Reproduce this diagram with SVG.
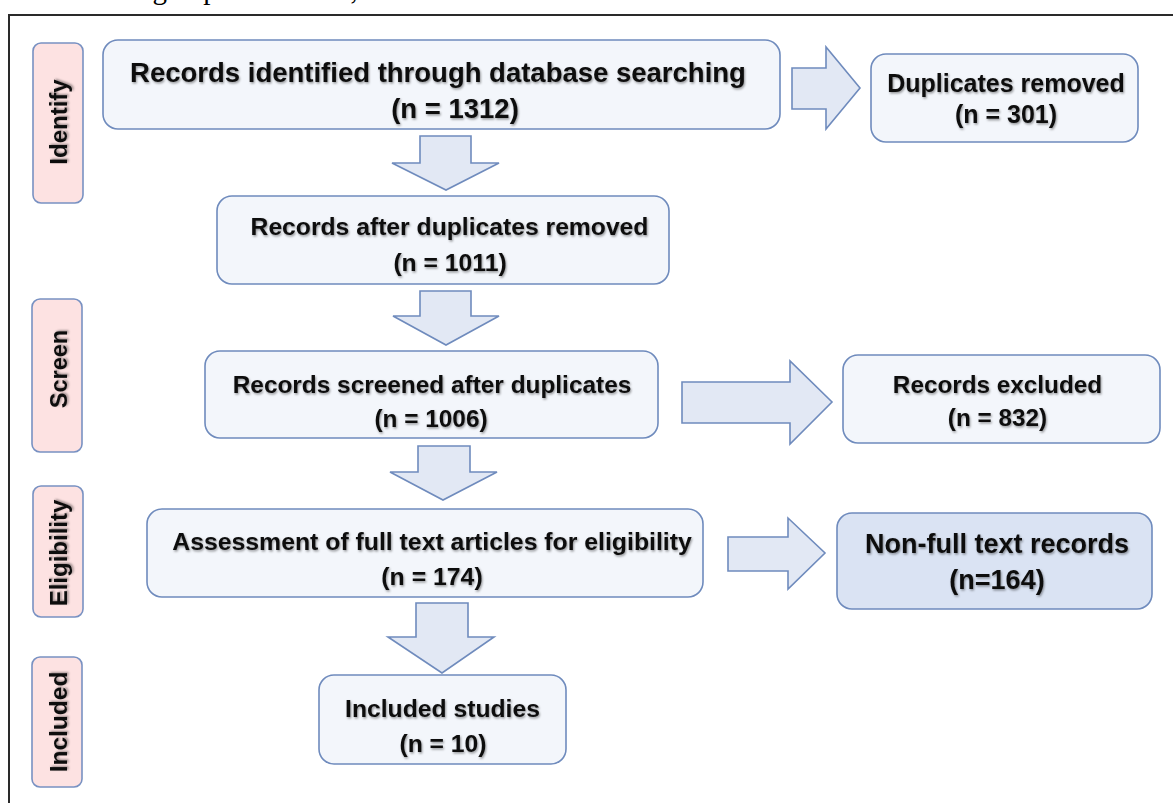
<svg xmlns="http://www.w3.org/2000/svg" width="1173" height="803" viewBox="0 0 1173 803">
<defs>
<filter id="sh" x="-5%" y="-20%" width="110%" height="140%">
<feDropShadow dx="1" dy="1.5" stdDeviation="1" flood-color="#000" flood-opacity="0.4"/>
</filter>
<style>
.box{fill:#f3f6fb;stroke:#6f8bbd;stroke-width:1.6}
.boxd{fill:#dae3f3;stroke:#6f8bbd;stroke-width:1.6}
.side{fill:#fde2e2;stroke:#7891c2;stroke-width:1.6}
.arr{fill:#e2e8f4;stroke:#6f8bbd;stroke-width:1.6;stroke-linejoin:miter}
text{font-family:"Liberation Sans",Arial,sans-serif;font-weight:bold;fill:#111;text-anchor:middle}
.t{filter:url(#sh)}
.top{font-family:"Liberation Serif","Times New Roman",serif;font-weight:normal;text-anchor:start;font-size:29px;fill:#000}
</style>
</defs>
<rect width="1173" height="803" fill="#ffffff"/>
<text class="top" x="18" y="-1">ter removing duplicate items, we found</text>
<rect x="9" y="15" width="1200" height="820" fill="none" stroke="#2a2a2a" stroke-width="2"/>

<g id="stage-identify">
<rect class="side" x="33" y="43" width="50" height="160" rx="8"/>
<text class="t" transform="translate(67,122) rotate(-90)" font-size="24">Identify</text>
</g>
<g id="stage-screen">
<rect class="side" x="32" y="299" width="50" height="153" rx="8"/>
<text class="t" transform="translate(67,369) rotate(-90)" font-size="23.5">Screen</text>
</g>
<g id="stage-eligibility">
<rect class="side" x="33" y="486" width="50" height="131" rx="8"/>
<text class="t" transform="translate(67,553) rotate(-90)" font-size="24">Eligibility</text>
</g>
<g id="stage-included">
<rect class="side" x="32" y="657" width="50" height="130" rx="8"/>
<text class="t" transform="translate(67,722) rotate(-90)" font-size="24.5">Included</text>
</g>

<g id="connectors">
<polygon class="arr" points="792,68 826,68 826,47 860,88 826,129 826,109 792,109"/>
<polygon class="arr" points="420,136 471,136 471,163 499,163 446,190 392,163 420,163"/>
<polygon class="arr" points="420,291 471,291 471,316 499,316 446,345 393,316 420,316"/>
<polygon class="arr" points="682,382 790,382 790,361 832,402 790,444 790,423 682,423"/>
<polygon class="arr" points="418,446 470,446 470,472 497,472 443,500 390,472 418,472"/>
<polygon class="arr" points="728,537 788,537 788,518 825,553 788,589 788,571 728,571"/>
<polygon class="arr" points="416,603 468,603 468,637 494,637 442,673 388,637 416,637"/>
</g>

<g id="identified">
<rect class="box" x="103" y="40" width="677" height="89" rx="15"/>
<text class="t" x="438" y="82" font-size="27.5">Records identified through database searching</text>
<text class="t" x="455" y="118" font-size="27.5">(n = 1312)</text>
</g>
<g id="duplicates">
<rect class="box" x="871" y="54" width="267" height="88" rx="15"/>
<text class="t" x="1006" y="92" font-size="25">Duplicates removed</text>
<text class="t" x="1006" y="123" font-size="25">(n = 301)</text>
</g>
<g id="after-duplicates">
<rect class="box" x="217" y="196" width="452" height="88" rx="15"/>
<text class="t" x="449.5" y="235" font-size="24.7">Records after duplicates removed</text>
<text class="t" x="450" y="271" font-size="24.7">(n = 1011)</text>
</g>
<g id="screened">
<rect class="box" x="205" y="351" width="453" height="87" rx="15"/>
<text class="t" x="432" y="393" font-size="24.4">Records screened after duplicates</text>
<text class="t" x="431" y="427" font-size="24.4">(n = 1006)</text>
</g>
<g id="excluded">
<rect class="box" x="843" y="355" width="317" height="88" rx="15"/>
<text class="t" x="997.5" y="393" font-size="24.3">Records excluded</text>
<text class="t" x="997.5" y="426" font-size="24.3">(n = 832)</text>
</g>
<g id="assessment">
<rect class="box" x="147" y="509" width="556" height="88" rx="15"/>
<text class="t" x="432" y="550" font-size="24.8">Assessment of full text articles for eligibility</text>
<text class="t" x="432" y="585" font-size="24.8">(n = 174)</text>
</g>
<g id="non-full-text">
<rect class="boxd" x="837" y="513" width="315" height="96" rx="15"/>
<text class="t" x="997" y="553" font-size="27">Non-full text records</text>
<text class="t" x="997" y="589" font-size="27">(n=164)</text>
</g>
<g id="included">
<rect class="box" x="319" y="675" width="247" height="89" rx="15"/>
<text class="t" x="442.5" y="717" font-size="24.7">Included studies</text>
<text class="t" x="443" y="752" font-size="24.7">(n = 10)</text>
</g>
</svg>
